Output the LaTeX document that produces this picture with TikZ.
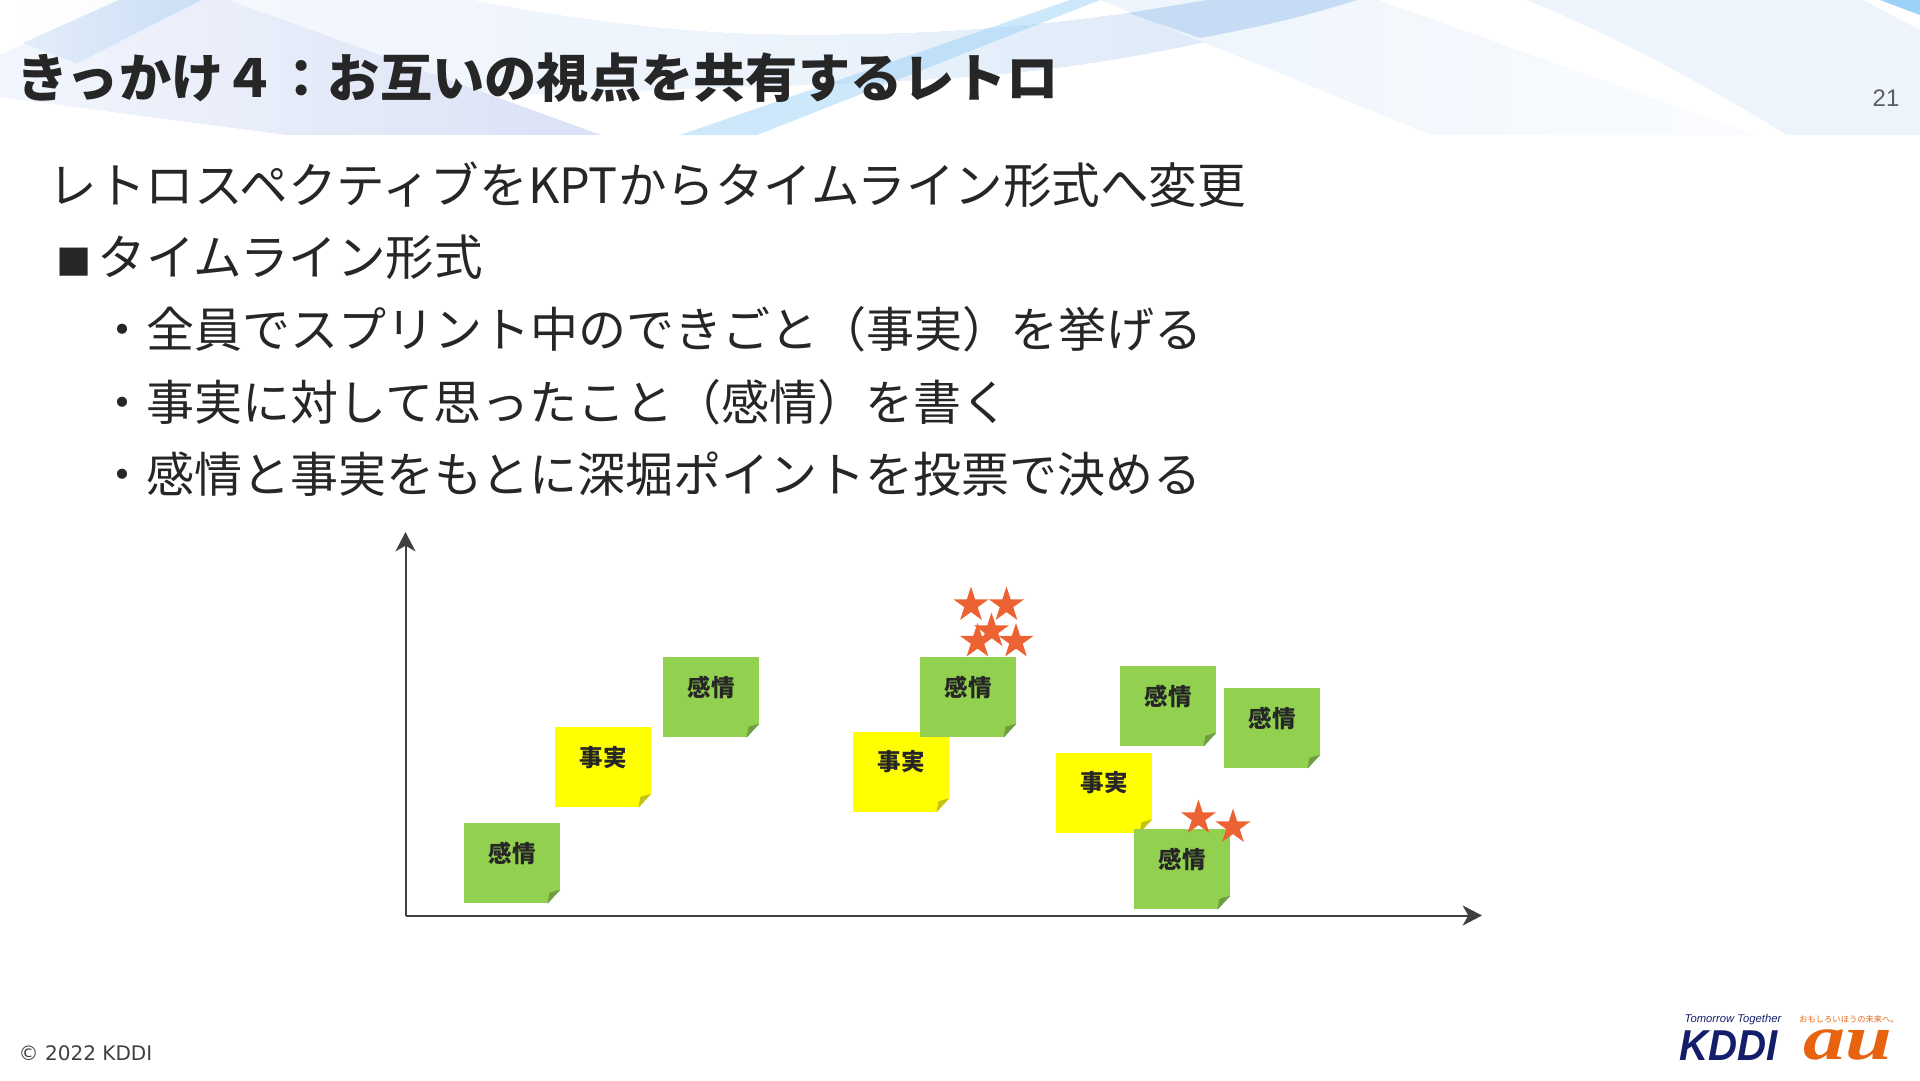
\documentclass[tikz,border=0pt]{standalone}
\usepackage{fontspec}
\setmainfont{Noto Sans CJK JP}
\newfontfamily\latinsans{DejaVu Sans}
\newfontfamily\logosans{Liberation Sans}
\newfontfamily\logoserif{Liberation Serif}
\usetikzlibrary{arrows.meta,calc,shapes.geometric}
\definecolor{inkgray}{HTML}{262626}
\definecolor{axisgray}{HTML}{404040}
\definecolor{notegreen}{HTML}{92D050}
\definecolor{notegreendark}{HTML}{6F9E42}
\definecolor{noteyellow}{HTML}{FFFF00}
\definecolor{noteyellowdark}{HTML}{C4C414}
\definecolor{starorange}{HTML}{EC6232}
\definecolor{kddinavy}{HTML}{141F6B}
\definecolor{auorange}{HTML}{E8630F}
\definecolor{swooshsky}{HTML}{9CD2F7}
\definecolor{swooshpale}{HTML}{EDF4FC}
\definecolor{swooshfaint}{HTML}{F3F7FD}
\definecolor{swooshmid}{HTML}{DCE9F8}
\definecolor{swooshoverlap}{HTML}{C6DCF4}
\definecolor{swooshlav}{HTML}{DDE3F6}
\definecolor{swooshlavfaint}{HTML}{F1F5FD}
\definecolor{swooshstripeA}{HTML}{E3ECF9}
\definecolor{swooshstripeB}{HTML}{CBDFF5}
\definecolor{swooshfade}{HTML}{FAFCFF}
\tikzset{
  bodyline/.style={anchor=west,inner sep=0pt,text=inkgray,font=\fontsize{13.66}{16}\selectfont},
  titleline/.style={anchor=west,inner sep=0pt,text=inkgray,font=\fontsize{14.86}{18}\selectfont\bfseries},
  axisline/.style={axisgray,line width=.57pt,-{Stealth[length=5.5pt,width=5.7pt,inset=1.6pt]}},
  stickynote/.style={minimum width=9.55mm,minimum height=8mm,inner sep=0pt,text height=1.9mm,text depth=2.1mm,
    text=inkgray,font=\fontsize{6.7}{8}\selectfont\bfseries},
  factnote/.style={stickynote,fill=noteyellow},
  feelnote/.style={stickynote,fill=notegreen},
  votestar/.style={star,star points=5,star point ratio=2.618,minimum size=3.7mm,inner sep=0pt,fill=starorange}
}
% colour steps left to right, for use inside a clip
\newcommand{\stripfill}[4]{%
  \foreach \s in {0,...,15}{
    \pgfmathsetmacro\stripx{#1+(#2-#1)*\s/16}
    \pgfmathsetmacro\stripmix{100-\s*100/15}
    \fill[#3!\stripmix!#4] (\stripx,0) rectangle (1920,135);
  }
}
\begin{document}
\begin{tikzpicture}[x=.1mm,y=-.1mm]
\useasboundingbox (0,0) rectangle (1920,1080);
% header swooshes
\begin{scope}
\clip (0,0) -- (471,0) .. controls (560,18) and (690,36) .. (800,35) .. controls (920,36) and (1060,28) .. (1207,0)
  -- (1357,0) .. controls (1250,36) and (1100,68) .. (960,77) .. controls (860,84) and (700,88) .. (490,95) -- (0,55) -- cycle;
\stripfill{0}{300}{white}{swooshfaint}
\stripfill{300}{700}{swooshfaint}{swooshpale}
\stripfill{700}{1300}{swooshpale}{swooshmid}
\end{scope}
\begin{scope}
\clip (0,55) -- (120,0) -- (227,0) -- (600,135) -- (290,135) -- (0,97) -- cycle;
\stripfill{0}{560}{swooshlavfaint}{swooshlav}
\end{scope}
\begin{scope}
\clip (120,0) -- (200,0) -- (77,63) -- (23,43) -- cycle;
\stripfill{23}{200}{swooshstripeA}{swooshstripeB}
\end{scope}
\begin{scope}
\clip (1100,0) -- (1377,0) -- (1753,135) -- (1433,135) -- cycle;
\stripfill{1100}{1750}{swooshpale}{swooshfade}
\end{scope}
\fill[swooshoverlap] (1128,13) -- (1207,0) -- (1357,0) .. controls (1310,15) and (1260,27) .. (1200,38) -- cycle;
\fill[swooshsky,opacity=.5] (680,135) -- (1070,0) -- (1100,0) -- (757,135) -- cycle;
\fill[swooshpale] (1527,0) .. controls (1600,30) and (1690,75) .. (1787,135) -- (1920,135) -- (1920,30) -- (1863,0) -- cycle;
\fill[swooshsky] (1880,0) -- (1920,0) -- (1920,15) -- cycle;
% title and text
\node[titleline] (title) at (16,78) {きっかけ４：お互いの視点を共有するレトロ};
\node[anchor=east,inner sep=0pt,text=axisgray!85,font=\logosans\fontsize{6.8}{8}\selectfont] (pageno) at (1900,98) {21};
\node[bodyline,font=\fontsize{13.82}{16}\selectfont] (lead) at (48,185) {レトロスペクティブをKPTからタイムライン形式へ変更};
\node[bodyline,font=\fontsize{13.82}{16}\selectfont] (head) at (50,257) {\makebox[13.4pt][c]{\fontsize{10}{12}\selectfont ■}タイムライン形式};
\node[bodyline] (itemone) at (98,329) {・全員でスプリント中のできごと（事実）を挙げる};
\node[bodyline] (itemtwo) at (98,402) {・事実に対して思ったこと（感情）を書く};
\node[bodyline] (itemthree) at (98,474) {・感情と事実をもとに深堀ポイントを投票で決める};
% axes
\coordinate (origin) at (405.5,915.5);
\coordinate (ytip) at (405.5,532);
\coordinate (xtip) at (1482,915.5);
\draw[axisline] (origin) -- (ytip);
\draw[axisline] (origin) -- (xtip);
% sticky notes
\foreach \n/\x/\y in {factA/603/767,factB/901/771.5,factC/1104/792.5}{
  \node[factnote] (\n) at (\x,\y) {事実};
  \fill[white] (\n.south east) -- ++(0,-14) -- ++(-13,14) -- cycle;
  \fill[noteyellowdark] ($(\n.south east)+(0,-14)$) -- ($(\n.south east)+(-13,0)$) -- ($(\n.south east)+(-11,-11)$) -- cycle;
}
\foreach \n/\x/\y in {feelA/512/863,feelB/711/697,feelC/968/697,feelD/1168/706,feelE/1272/728,feelF/1182/869}{
  \node[feelnote] (\n) at (\x,\y) {感情};
  \fill[white] (\n.south east) -- ++(0,-14) -- ++(-13,14) -- cycle;
  \fill[notegreendark] ($(\n.south east)+(0,-14)$) -- ($(\n.south east)+(-13,0)$) -- ($(\n.south east)+(-11,-11)$) -- cycle;
}
% votes
\foreach \n/\x/\y in {voteA/971/605,voteB/1006.5/605,voteC/977.5/641.5,voteD/1016/641.5,voteE/991.5/631,voteF/1198.5/818,voteG/1233/827}{
  \node[votestar] (\n) at (\x,\y) {};
}
% footer
\node[anchor=west,inner sep=0pt,text=axisgray,font=\latinsans\fontsize{5.7}{7}\selectfont] (copyright) at (18,1053) {© 2022 KDDI};
\node[inner sep=0pt,text=kddinavy,font=\logosans\itshape\fontsize{3.2}{4}\selectfont] (tagline) at (1733,1020) {Tomorrow Together};
\node[inner sep=0pt,text=kddinavy,xscale=.93,font=\logosans\bfseries\itshape\fontsize{12.3}{14}\selectfont] (kddi) at (1729,1046) {KDDI};
\node[inner sep=0pt,text=auorange,font=\fontsize{2.35}{3}\selectfont] (slogan) at (1849,1019) {おもしろいほうの未来へ。};
\node[inner sep=0pt,text=auorange,xscale=1.33,font=\logoserif\bfseries\itshape\fontsize{18}{19}\selectfont] (au) at (1848,1045) {au};
\end{tikzpicture}
\end{document}
